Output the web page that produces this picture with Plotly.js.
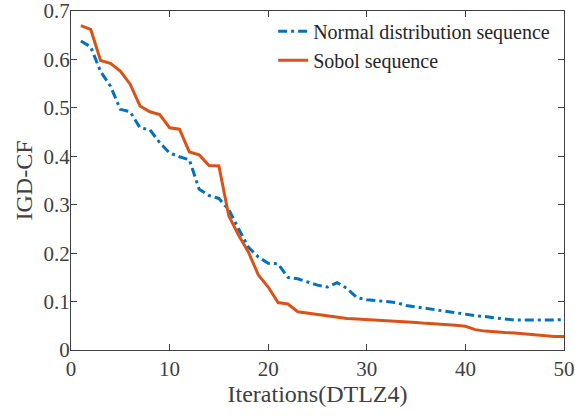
<!DOCTYPE html>
<html>
<head>
<meta charset="utf-8">
<script src="https://cdn.plot.ly/plotly-3.0.1.min.js"></script>
<style>html,body{margin:0;padding:0;background:#fff;}#chart{width:575px;height:416px;}</style>
</head>
<body>
<div id="chart"></div>
<script>
const iterations = Array.from({length: 50}, (_, i) => i + 1);
const normalSeq = [0.638,0.626,0.575,0.545,0.497,0.492,0.459,0.455,0.428,0.407,
  0.399,0.393,0.332,0.319,0.313,0.290,0.250,0.212,0.192,0.179,
  0.178,0.150,0.147,0.140,0.134,0.130,0.139,0.127,0.108,0.104,
  0.102,0.100,0.098,0.092,0.089,0.085,0.082,0.079,0.076,0.073,
  0.071,0.069,0.066,0.064,0.062,0.062,0.061,0.061,0.062,0.063];
const sobolSeq = [0.670,0.662,0.598,0.592,0.576,0.549,0.504,0.492,0.486,0.459,
  0.456,0.409,0.403,0.381,0.380,0.277,0.237,0.202,0.155,0.130,
  0.098,0.095,0.079,0.076,0.073,0.070,0.067,0.065,0.064,0.063,
  0.062,0.061,0.059,0.058,0.057,0.055,0.054,0.053,0.051,0.049,
  0.042,0.039,0.037,0.036,0.035,0.033,0.031,0.029,0.028,0.028];
const seriesNames = ["Normal distribution sequence", "Sobol sequence"];
const xTickVals = [0,10,20,30,40,50];
const yTickVals = [0,0.1,0.2,0.3,0.4,0.5,0.6,0.7];
const yTickText = ["0","0.1","0.2","0.3","0.4","0.5","0.6","0.7"];

const font = "Liberation Serif";
const traces = [
  {x: iterations, y: normalSeq, name: seriesNames[0], type: "scatter", mode: "lines",
   line: {color: "#0072BD", width: 3, dash: "9px,4px,3px,4px"}},
  {x: iterations, y: sobolSeq, name: seriesNames[1], type: "scatter", mode: "lines",
   line: {color: "#D95319", width: 3}}
];
const layout = {
  width: 575, height: 416,
  margin: {l: 71, r: 11, t: 11, b: 66},
  paper_bgcolor: "#fff", plot_bgcolor: "#fff",
  font: {family: font, size: 20, color: "#404040"},
  xaxis: {
    showline: true, mirror: "ticks", linecolor: "#404040", linewidth: 1,
    ticks: "inside", ticklen: 6, tickcolor: "#404040", showgrid: false, zeroline: false,
    tickfont: {family: font, size: 21, color: "#404040"}, ticklabeloverflow: "allow",
    range: [0, 50], tickmode: "array", tickvals: xTickVals,
    title: {text: "Iterations(DTLZ4)", font: {family: font, size: 24, color: "#404040"}, standoff: 2}
  },
  yaxis: {
    showline: true, mirror: "ticks", linecolor: "#404040", linewidth: 1,
    ticks: "inside", ticklen: 6, tickcolor: "#404040", showgrid: false, zeroline: false,
    tickfont: {family: font, size: 21, color: "#404040"}, ticklabeloverflow: "allow",
    ticklabelstandoff: -4,
    range: [0, 0.7001], tickmode: "array", tickvals: yTickVals, ticktext: yTickText,
    title: {text: "IGD-CF", font: {family: font, size: 24, color: "#404040"}, standoff: 4}
  },
  legend: {x: 0.41, y: 0.998, xanchor: "left", yanchor: "top", bgcolor: "rgba(255,255,255,0)",
    font: {family: font, size: 20, color: "#262626"}, itemwidth: 30, tracegroupgap: 0},
  showlegend: true
};
Plotly.newPlot("chart", traces, layout, {staticPlot: true, displayModeBar: false});
</script>
</body>
</html>
